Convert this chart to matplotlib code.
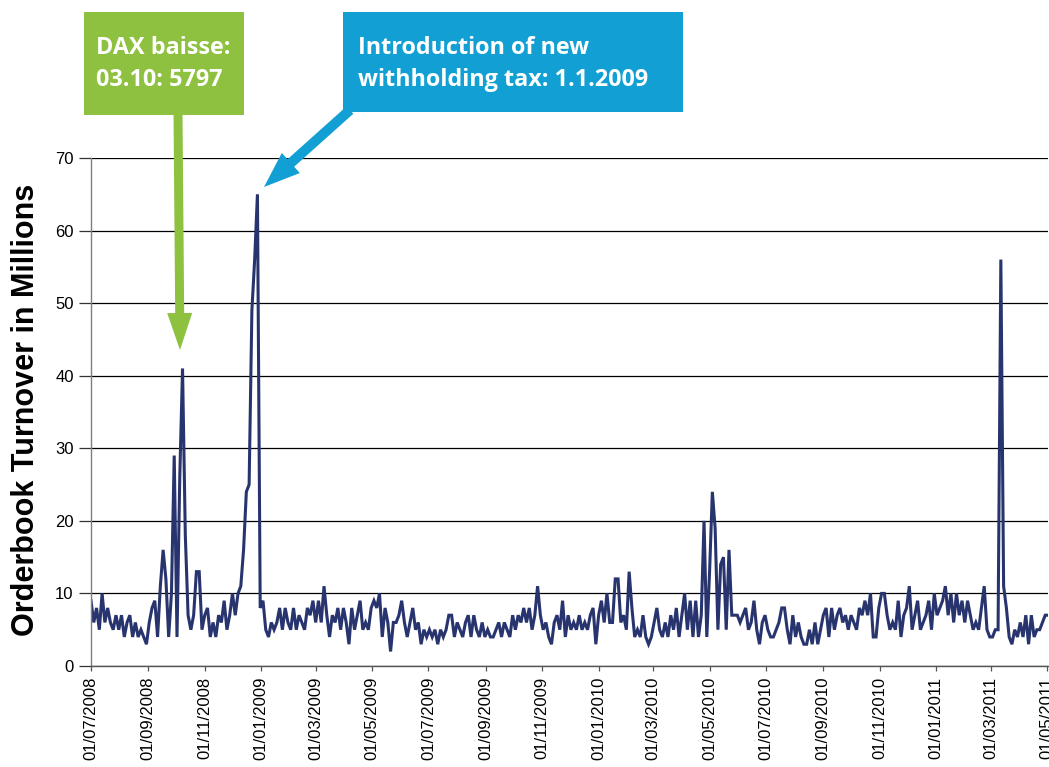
import matplotlib
matplotlib.use("Agg")
import matplotlib.pyplot as plt
import matplotlib.dates as mdates
from matplotlib.patches import Rectangle, FancyArrow
from matplotlib.transforms import IdentityTransform
import pandas as pd

# ---- data (one sample every 3 calendar days) ----
start_date = "2008-07-01"
step_days = 3
turnover = [
    9, 6, 8, 5, 10, 6, 8, 6, 5, 7,
    5, 7, 4, 6, 7, 4, 6, 4, 5, 4,
    3, 6, 8, 9, 4, 11, 16, 12, 4, 10,
    29, 4, 26, 41, 18, 7, 5, 7, 13, 13,
    5, 7, 8, 4, 6, 4, 7, 6, 9, 5,
    7, 10, 7, 10, 11, 16, 24, 25, 49, 56,
    65, 8, 9, 5, 4, 6, 5, 6, 8, 5,
    8, 6, 5, 8, 5, 7, 6, 5, 8, 7,
    9, 6, 9, 6, 11, 7, 4, 7, 6, 8,
    5, 8, 6, 3, 8, 5, 7, 9, 5, 6,
    5, 8, 9, 8, 10, 4, 8, 6, 2, 6,
    6, 7, 9, 6, 4, 6, 8, 5, 6, 3,
    5, 4, 5, 4, 5, 3, 5, 4, 5, 7,
    7, 4, 6, 5, 4, 6, 7, 4, 7, 5,
    4, 6, 4, 5, 4, 4, 5, 6, 4, 6,
    5, 4, 7, 5, 7, 6, 8, 6, 8, 5,
    7, 11, 7, 5, 6, 4, 3, 6, 7, 5,
    9, 4, 7, 5, 6, 5, 7, 5, 6, 5,
    7, 8, 3, 7, 9, 6, 10, 6, 6, 12,
    12, 6, 7, 5, 13, 8, 4, 5, 4, 7,
    4, 3, 4, 6, 8, 5, 4, 6, 4, 7,
    5, 8, 4, 7, 10, 5, 9, 4, 9, 4,
    7, 20, 4, 13, 24, 19, 5, 14, 15, 5,
    16, 7, 7, 7, 6, 7, 8, 5, 6, 9,
    5, 3, 6, 7, 5, 4, 4, 5, 6, 8,
    8, 5, 3, 7, 4, 6, 4, 3, 3, 5,
    3, 6, 3, 5, 7, 8, 4, 8, 5, 7,
    8, 6, 7, 5, 7, 6, 5, 8, 7, 9,
    7, 10, 4, 4, 8, 10, 10, 7, 5, 6,
    5, 9, 4, 7, 8, 11, 5, 7, 9, 5,
    6, 7, 9, 5, 10, 7, 8, 9, 11, 7,
    10, 6, 10, 7, 9, 6, 9, 7, 5, 6,
    5, 8, 11, 5, 4, 4, 5, 5, 56, 11,
    8, 4, 3, 5, 4, 6, 4, 7, 3, 7,
    4, 5, 5, 6, 7, 7,
]
y_ticks = [0, 10, 20, 30, 40, 50, 60, 70]
x_start, x_end = "2008-07-01", "2011-05-02"
y_label = "Orderbook Turnover in Millions"
note_green = ["DAX baisse:", "03.10: 5797"]
note_blue = ["Introduction of new", "withholding tax: 1.1.2009"]

dates = pd.date_range(start_date, periods=len(turnover), freq=f"{step_days}D")

# ---- figure ----
W, H = 1049, 767
fig = plt.figure(figsize=(W / 100, H / 100), dpi=100)
fig.patch.set_facecolor("white")


def fx(px):
    return px / W


def fy(py):
    return 1 - py / H


ax = fig.add_axes([fx(91), fy(666), fx(1048) - fx(91), fy(158) - fy(666)])
ax.plot(dates, turnover, color="#28346E", lw=2.2, solid_joinstyle="miter")

ax.set_xlim(pd.Timestamp(x_start), pd.Timestamp(x_end))
ax.set_ylim(0, 70)
ax.set_yticks(y_ticks)
ax.yaxis.grid(True, color="black", lw=0.9)
ax.set_axisbelow(True)

ax.xaxis.set_major_locator(mdates.MonthLocator(bymonth=[1, 3, 5, 7, 9, 11]))
ax.xaxis.set_major_formatter(mdates.DateFormatter("%d/%m/%Y"))

for s in ["top", "right"]:
    ax.spines[s].set_visible(False)
ax.spines["left"].set_color("#7f7f7f")
ax.spines["bottom"].set_color("#555555")
ax.spines["left"].set_linewidth(1.0)
ax.spines["bottom"].set_linewidth(1.0)

ax.tick_params(axis="y", direction="out", length=9, width=0.9, color="#333333",
               labelsize=12, pad=3.5)
ax.tick_params(axis="x", direction="out", length=3.5, width=0.9, color="#555555",
               labelsize=12, pad=4, labelrotation=90)
for lab in ax.get_xticklabels() + ax.get_yticklabels():
    lab.set_family(["Liberation Sans", "DejaVu Sans"])

ax.set_ylabel(y_label, fontsize=22, fontweight="bold",
              family=["Liberation Sans", "DejaVu Sans"])
ax.yaxis.set_label_coords((41 - 91) / (1048 - 91), 0.505)

# ---- annotation boxes ----
green = "#8DC13F"
blue = "#12A0D4"
fig.add_artist(Rectangle((fx(84), fy(115)), fx(244) - fx(84), fy(12) - fy(115),
                         transform=fig.transFigure, color=green, lw=0))
fig.add_artist(Rectangle((fx(343), fy(112)), fx(683) - fx(343), fy(12) - fy(112),
                         transform=fig.transFigure, color=blue, lw=0))

txt_kw = dict(color="white", fontsize=16.8, fontweight="bold",
              family=["Open Sans", "DejaVu Sans"], va="center", ha="left",
              transform=fig.transFigure)
fig.text(fx(96), fy(48), note_green[0], **txt_kw)
fig.text(fx(96), fy(80), note_green[1], **txt_kw)
fig.text(fx(358), fy(48), note_blue[0], **txt_kw)
fig.text(fx(358), fy(80), note_blue[1], **txt_kw)

# ---- arrows (pixel coordinates, origin bottom-left) ----
ident = IdentityTransform()
fig.add_artist(FancyArrow(178, H - 114, 2, -(350 - 114), width=9, head_width=25,
                          head_length=37, length_includes_head=True,
                          transform=ident, color=green, lw=0))
fig.add_artist(FancyArrow(350, H - 110, -(350 - 264), -(187 - 110), width=10,
                          head_width=27, head_length=36, length_includes_head=True,
                          transform=ident, color=blue, lw=0))

fig.savefig("out.png", dpi=100, facecolor="white")
